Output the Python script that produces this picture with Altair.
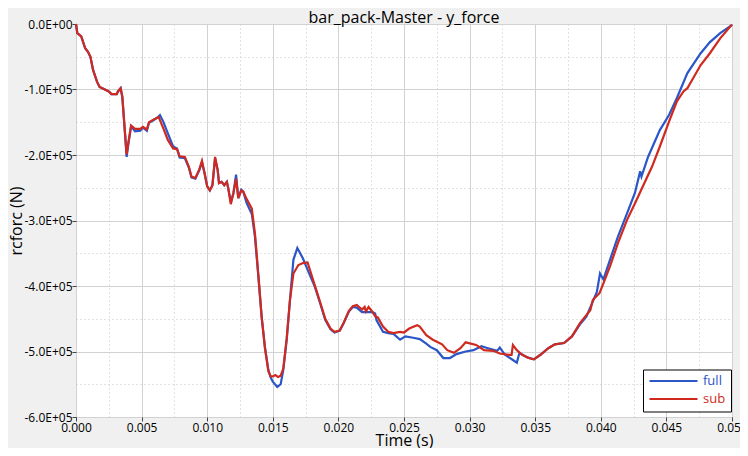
import altair as alt
import pandas as pd

# ---- data (time in s, force in kN) ----
full_time = [
    0.0, 0.0001, 0.0004, 0.0007, 0.0009, 0.0011, 0.0013, 0.0016, 0.0018, 0.0022,
    0.0025, 0.0027, 0.0031, 0.0032, 0.0034, 0.00353, 0.00368, 0.00386, 0.0040, 0.0042,
    0.0045, 0.0049, 0.0051, 0.0054, 0.00556, 0.0059, 0.0062, 0.0064, 0.00665, 0.0070,
    0.0074, 0.0077, 0.0079, 0.0083, 0.0086, 0.0088, 0.0091, 0.0094, 0.0096, 0.0098,
    0.0100, 0.0102, 0.0104, 0.0106, 0.0108, 0.0109, 0.0111, 0.0113, 0.0115, 0.0116,
    0.0118, 0.0120, 0.0122, 0.01237, 0.0126, 0.01275, 0.0130, 0.0134, 0.01364, 0.0139,
    0.01415, 0.0144, 0.01466, 0.01484, 0.0150, 0.01534, 0.0156, 0.0158, 0.01606, 0.01631,
    0.01657, 0.01687, 0.0173, 0.01771, 0.0182, 0.0186, 0.0190, 0.0194, 0.0197, 0.0201,
    0.0204, 0.0208, 0.0211, 0.0214, 0.0218, 0.0222, 0.0226, 0.0228, 0.0229, 0.0234,
    0.0238, 0.0242, 0.0247, 0.0251, 0.0257, 0.0262, 0.0267, 0.0270, 0.0275, 0.0280,
    0.0285, 0.0290, 0.0297, 0.0303, 0.0309, 0.0314, 0.0321, 0.0323, 0.0327, 0.0333,
    0.0336, 0.0338, 0.0344, 0.0349, 0.0354, 0.0360, 0.0365, 0.0372, 0.0378, 0.0384,
    0.0389, 0.0397, 0.03994, 0.0402, 0.0407, 0.0413, 0.0420, 0.0426, 0.0430, 0.0431,
    0.0436, 0.0445, 0.0452, 0.0458, 0.0466, 0.0476, 0.0483, 0.0491, 0.0499, 0.0500,
]
full_force_kN = [
    0, -14, -19, -37, -42, -50, -70, -88, -96, -100,
    -103, -107, -107, -103, -98, -111, -152, -203, -182, -156,
    -164, -163, -158, -163, -151, -147, -143, -139, -149, -167,
    -187, -190, -204, -205, -219, -234, -236, -223, -211, -228,
    -248, -254, -246, -205, -223, -243, -241, -246, -241, -251,
    -272, -258, -230, -266, -253, -256, -273, -290, -325, -386,
    -447, -493, -528, -540, -546, -554, -550, -528, -482, -421,
    -360, -342, -358, -378, -401, -426, -452, -466, -471, -468,
    -457, -439, -432, -433, -440, -440, -440, -442, -452, -470,
    -472, -473, -482, -477, -479, -481, -488, -493, -498, -510,
    -510, -504, -500, -498, -492, -495, -499, -494, -505, -513,
    -517, -502, -509, -512, -505, -495, -489, -487, -477, -459,
    -447, -409, -381, -390, -360, -325, -289, -258, -225, -233,
    -203, -162, -139, -113, -75, -45, -28, -14, -3, -1,
]

sub_time = [
    0.0, 0.0001, 0.0004, 0.0007, 0.0009, 0.0011, 0.0013, 0.0016, 0.0018, 0.0022,
    0.0025, 0.0027, 0.0031, 0.0032, 0.0034, 0.00353, 0.00368, 0.00386, 0.0040, 0.0042,
    0.0045, 0.0049, 0.0051, 0.0054, 0.00556, 0.0059, 0.0063, 0.00665, 0.0070, 0.0074,
    0.0077, 0.0079, 0.0083, 0.0086, 0.0088, 0.0091, 0.0094, 0.0096, 0.0098, 0.0100,
    0.0102, 0.0104, 0.0106, 0.0108, 0.0109, 0.0111, 0.0113, 0.0115, 0.0116, 0.0118,
    0.0120, 0.0122, 0.01237, 0.0126, 0.01275, 0.0130, 0.0134, 0.01364, 0.0139, 0.01415,
    0.0144, 0.01466, 0.01484, 0.0150, 0.0152, 0.0154, 0.0156, 0.0158, 0.01606, 0.01631,
    0.01657, 0.01695, 0.0173, 0.01765, 0.01784, 0.0182, 0.0186, 0.0190, 0.0194, 0.0197,
    0.0201, 0.0204, 0.0208, 0.0211, 0.0214, 0.0218, 0.0220, 0.0221, 0.0223, 0.0225,
    0.0228, 0.0230, 0.0234, 0.0238, 0.0242, 0.0247, 0.0250, 0.0254, 0.0260, 0.0262,
    0.0267, 0.0272, 0.0279, 0.0283, 0.0288, 0.0293, 0.0297, 0.0305, 0.0311, 0.0318,
    0.0323, 0.0330, 0.0332, 0.0333, 0.0336, 0.0340, 0.0345, 0.0349, 0.0354, 0.0360,
    0.0365, 0.0372, 0.0378, 0.0384, 0.0392, 0.0394, 0.0399, 0.0402, 0.0407, 0.0413,
    0.0420, 0.0426, 0.0432, 0.0439, 0.0445, 0.0452, 0.0458, 0.0463, 0.0466, 0.0476,
    0.0483, 0.0491, 0.0499, 0.0500,
]
sub_force_kN = [
    0, -14, -19, -37, -42, -50, -70, -88, -96, -100,
    -103, -107, -107, -103, -98, -111, -152, -199, -180, -155,
    -160, -160, -157, -161, -150, -146, -142, -159, -177, -190,
    -191, -202, -203, -218, -233, -235, -222, -209, -228, -248,
    -254, -246, -203, -223, -243, -241, -246, -241, -250, -275,
    -258, -236, -266, -254, -256, -267, -282, -320, -383, -447,
    -495, -530, -538, -538, -536, -539, -537, -526, -480, -421,
    -381, -368, -365, -364, -376, -399, -424, -450, -465, -470,
    -468, -456, -438, -431, -429, -436, -432, -439, -432, -437,
    -446, -448, -462, -470, -472, -470, -471, -465, -460, -462,
    -475, -482, -489, -498, -502, -495, -486, -490, -498, -499,
    -503, -505, -505, -490, -498, -505, -510, -512, -505, -495,
    -489, -487, -477, -457, -437, -421, -411, -396, -370, -335,
    -299, -274, -248, -218, -187, -149, -118, -103, -98, -63,
    -45, -22, -3, -1,
]

series_names = ["full", "sub"]
series_colors = ["#2a56c8", "#d02a20"]

x_tick_values = [0.0, 0.0025, 0.005, 0.0075, 0.01, 0.0125, 0.015, 0.0175, 0.02, 0.0225,
                 0.025, 0.0275, 0.03, 0.0325, 0.035, 0.0375, 0.04, 0.0425, 0.045, 0.0475, 0.05]
y_tick_values = [0, -50000, -100000, -150000, -200000, -250000, -300000, -350000,
                 -400000, -450000, -500000, -550000, -600000]

df = pd.concat([
    pd.DataFrame({"time": full_time, "force": [v * 1000 for v in full_force_kN], "series": series_names[0]}),
    pd.DataFrame({"time": sub_time, "force": [v * 1000 for v in sub_force_kN], "series": series_names[1]}),
], ignore_index=True)

X_MINOR = "abs(datum.value / 0.005 - round(datum.value / 0.005)) > 0.25"
Y_MINOR = "abs(datum.value / 100000 - round(datum.value / 100000)) > 0.25"

FONT = "Open Sans"

x_axis = alt.Axis(
    values=x_tick_values,
    labelExpr=f"{X_MINOR} ? '' : format(datum.value, '.3f')",
    labelFont=FONT, labelFontSize=12, labelColor="black", labelPadding=1,
    labelOverlap=False, labelFlush=False,
    tickSize=4, tickColor="#444444",
    tickOpacity={"condition": {"test": X_MINOR, "value": 0}, "value": 1},
    grid=True,
    gridColor={"condition": {"test": X_MINOR, "value": "#c4c4c4"}, "value": "#d2d2d2"},
    gridDash={"condition": {"test": X_MINOR, "value": [1, 3]}, "value": []},
    domain=False,
    title="Time (s)", titleFont=FONT, titleFontSize=16, titleFontWeight="normal",
    titleColor="black", titleBaseline="alphabetic", titleY=28.5,
)

y_axis = alt.Axis(
    values=y_tick_values,
    labelExpr=(f"{Y_MINOR} ? '' : (datum.value == 0 ? '0.0E+00' : "
               "'-' + format(abs(datum.value) / 100000, '.1f') + 'E+05')"),
    labelFont=FONT, labelFontSize=12, labelColor="black", labelPadding=0,
    labelOverlap=False, labelFlush=False,
    tickSize=4, tickColor="#444444",
    tickOpacity={"condition": {"test": Y_MINOR, "value": 0}, "value": 1},
    grid=True,
    gridColor={"condition": {"test": Y_MINOR, "value": "#c4c4c4"}, "value": "#d2d2d2"},
    gridDash={"condition": {"test": Y_MINOR, "value": [1, 3]}, "value": []},
    domain=False,
    title="rcforc (N)", titleFont=FONT, titleFontSize=16, titleFontWeight="normal",
    titleColor="black", titleAngle=270, titleBaseline="top", titleAlign="center",
    titleX=-68, titleY=196.5,
)

legend = alt.Legend(
    orient="none", legendX=567, legendY=345.5, title=None,
    strokeColor="black", fillColor="white", padding=5, cornerRadius=0,
    symbolType="stroke", symbolSize=2304, symbolStrokeWidth=2.2, clipHeight=13,
    rowPadding=4, labelFont=FONT, labelFontSize=13, labelOffset=4,
    labelColor=alt.ExprRef(expr=f"datum.value == 'full' ? '{series_colors[0]}' : '{series_colors[1]}'"),
)

chart = alt.Chart(df).mark_line(strokeWidth=2.2).encode(
    x=alt.X("time:Q", scale=alt.Scale(domain=[0, 0.05], nice=False, zero=False), axis=x_axis),
    y=alt.Y("force:Q", scale=alt.Scale(domain=[-600000, 0], nice=False), axis=y_axis),
    color=alt.Color("series:N", scale=alt.Scale(domain=series_names, range=series_colors), legend=legend),
).properties(
    width=656,
    height=393,
    title=alt.TitleParams("bar_pack-Master - y_force", font=FONT, fontSize=16, fontWeight="normal",
                          color="black", anchor="middle", baseline="alphabetic", offset=-20.5),
    padding={"left": 68, "top": 16, "right": 8, "bottom": 31},
    autosize=alt.AutoSizeParams(type="none"),
).configure(
    background="#f0f0f0", font=FONT,
).configure_view(
    stroke="black", strokeWidth=1, fill="white",
)

chart.save("out.html", embed_options={"renderer": "svg", "actions": False})
